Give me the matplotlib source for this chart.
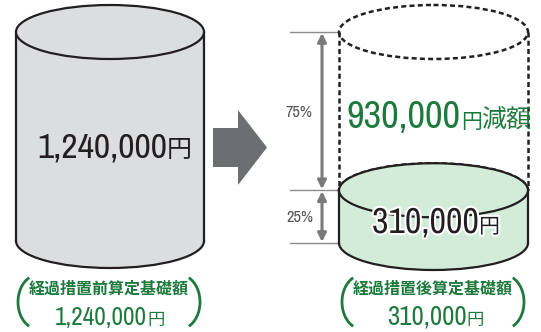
import matplotlib.pyplot as plt
import matplotlib.font_manager as fm
from matplotlib.patches import Ellipse, Rectangle, Polygon, Arc
import matplotlib.patheffects as pe

# datos del grafico
montos = [1240000, 310000]          # antes / despues
reduccion = 930000
porcentajes = [75, 25]
etiquetas = ['経過措置前算定基礎額', '経過措置後算定基礎額']

VERDE = '#1d7a3c'
NEGRO = '#231f20'
GRIS = '#8c8c8c'
JP = ['Noto Sans CJK JP', 'DejaVu Sans']


def peso(f):
    w = f.weight
    if isinstance(w, str):
        w = {'light': 300, 'normal': 400, 'regular': 400, 'book': 400,
             'medium': 500, 'bold': 700}.get(w, 400)
    return abs(w - 400) + (0 if f.style == 'normal' else 1000)


# buscar una fuente estrecha si existe (peso normal)
estrechas = sorted([f for f in fm.fontManager.ttflist
                    if 'Narrow' in f.name or 'Condensed' in f.name], key=peso)
NUM = ([estrechas[0].name] if estrechas else []) + ['Liberation Sans', 'DejaVu Sans']
PESO = 'normal'

fig = plt.figure(figsize=(5.41, 3.32), dpi=100)
ax = fig.add_axes([0, 0, 1, 1])
ax.set_xlim(0, 541)
ax.set_ylim(332, 0)
ax.axis('off')
rend = fig.canvas.get_renderer()


def ancho(t):
    bb = t.get_window_extent(renderer=rend)
    return bb.x1 - bb.x0, bb.x1


def ajustar(t, w):
    # escala el tamaño de letra para que el texto mida w pixeles
    for _ in range(3):
        actual, _x = ancho(t)
        t.set_fontsize(t.get_fontsize() * w / actual)
    return ancho(t)[1]


def cilindro(cx, w, top, bottom, eh, fc, ls='-', z=1, lw=1.6):
    # base, cuerpo, lados y tapa
    ax.add_patch(Ellipse((cx, bottom), w, eh, fc=fc, ec=NEGRO, lw=lw, ls=ls, zorder=z))
    ax.add_patch(Rectangle((cx - w / 2, top), w, bottom - top, fc=fc, ec='none', zorder=z + 0.1))
    for x in (cx - w / 2, cx + w / 2):
        ax.plot([x, x], [top, bottom], color=NEGRO, lw=lw, ls=ls, zorder=z + 0.2)
    ax.add_patch(Ellipse((cx, top), w, eh, fc=fc, ec=NEGRO, lw=lw, ls=ls, zorder=z + 0.3))


def monto(x, y, valor, w, color, ysize=17, extra=None, halo=False):
    t = ax.text(x, y, f'{valor:,}', fontsize=20, family=NUM, weight=PESO, color=color,
                ha='left', va='baseline', zorder=10)
    xfin = ajustar(t, w)
    x1 = ax.transData.inverted().transform((xfin, 0))[0]
    t2 = ax.text(x1, y, '円', fontsize=ysize, family=JP, color=color,
                 ha='left', va='baseline', zorder=10)
    objs = [t, t2]
    if extra:
        x2 = ax.transData.inverted().transform((ancho(t2)[1], 0))[0]
        objs.append(ax.text(x2 - 1, y, extra, fontsize=18, family=JP, color=color,
                            ha='left', va='baseline', zorder=10))
    if halo:
        for o in objs:
            o.set_path_effects([pe.withStroke(linewidth=3, foreground='white')])
    return objs


# cilindro izquierdo
top, bottom = 32, 241
cilindro(110, 188, top, bottom, 54, '#dcdddf')
monto(37, 157, montos[0], 130, NEGRO, ysize=18)

# flecha
ax.add_patch(Polygon([(213, 128), (238, 128), (238, 110), (267, 147.5),
                      (238, 185), (238, 167), (213, 167)], closed=True,
                     fc='#6d6e71', ec='none'))

# cilindro derecho
r_top, r_bot = 32, 243
nivel = r_bot - (r_bot - r_top) * montos[1] / montos[0]
cilindro(433.5, 189, r_top, nivel, 54, 'none', ls=(0, (2, 1.3)), z=1, lw=1.8)
cilindro(433.5, 189, nivel, r_bot, 54, '#d3ebd9', z=3)
monto(347, 128, reduccion, 114, VERDE, ysize=15, extra='減額')
monto(372, 233, montos[1], 107, NEGRO, ysize=15, halo=True)

# cotas
for y in (r_top, nivel, r_bot):
    ax.plot([290, 339], [y, y], color=GRIS, lw=1, zorder=0)
tramos = [(r_top, nivel), (nivel, r_bot)]
for (y0, y1), p in zip(tramos, porcentajes):
    ax.annotate('', xy=(322, y1 - 1), xytext=(322, y0 + 1),
                arrowprops=dict(arrowstyle='<|-|>,head_length=0.5,head_width=0.25',
                                color='#7a7a7a', lw=2.2, shrinkA=0, shrinkB=0))
    t = ax.text(286, (y0 + y1) / 2 + 1, f'{p}%', fontsize=9, family=NUM, color='#555555',
                ha='left', va='center')
    ajustar(t, 27)

# etiquetas inferiores
for cx, lab, val in zip([110, 434], etiquetas, montos):
    ax.text(cx - 1, 289, lab, fontsize=11.5, family=JP, weight='bold', color=VERDE,
            ha='center', va='center')
    t = ax.text(cx - 55, 325, f'{val:,}', fontsize=15, family=NUM, color=VERDE,
                ha='left', va='baseline')
    if val < 1000000:
        t.set_x(cx - 47)
        xf = ajustar(t, 80)
    else:
        xf = ajustar(t, 92)
    x1 = ax.transData.inverted().transform((xf, 0))[0]
    ax.text(x1, 325, '円', fontsize=12.5, family=JP, color=VERDE,
            ha='left', va='baseline')
    # parentesis
    ax.add_patch(Arc((cx - 92 + 20, 302), 40, 54, theta1=110, theta2=250,
                     color=VERDE, lw=2))
    ax.add_patch(Arc((cx + 90 - 20, 302), 40, 54, theta1=-70, theta2=70,
                     color=VERDE, lw=2))

fig.savefig('out.png', dpi=100)
